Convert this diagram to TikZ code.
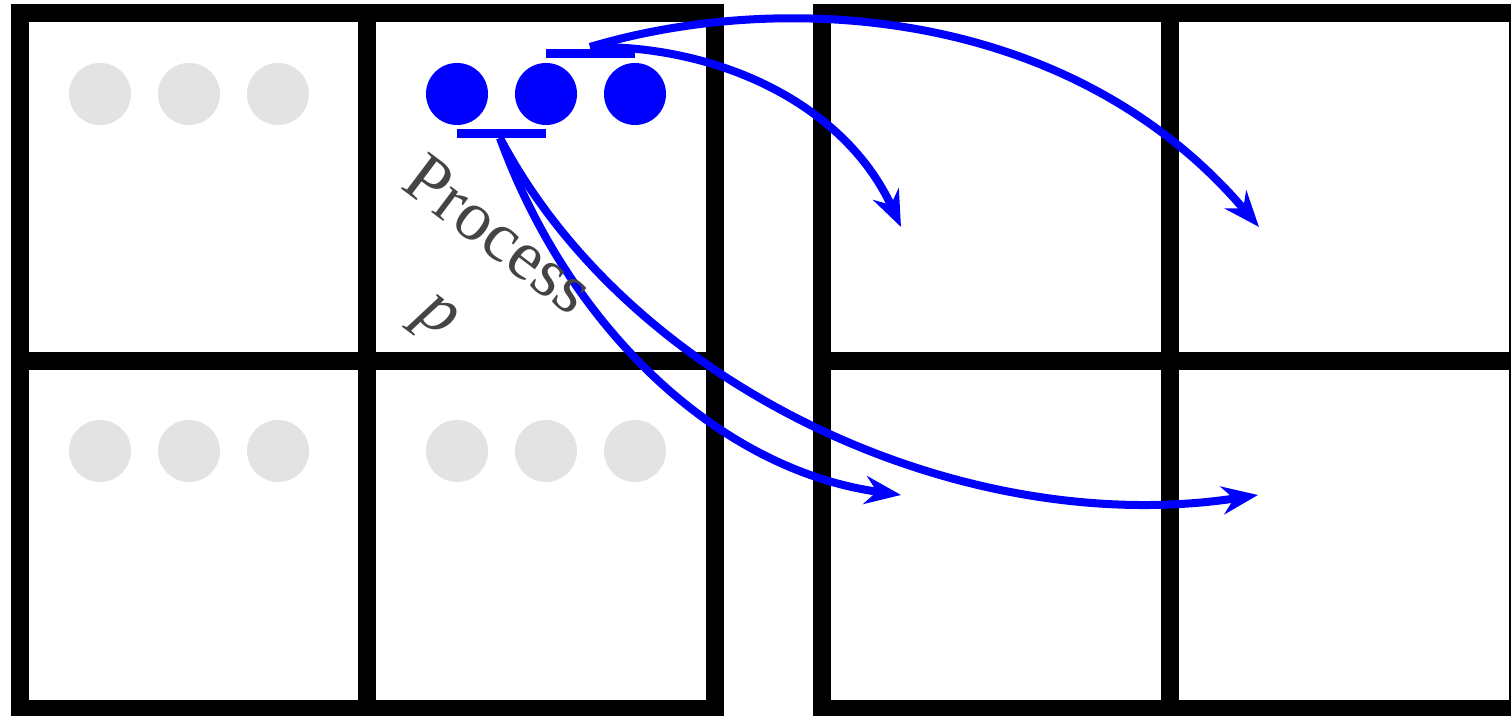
\documentclass[tikz,border=0pt]{standalone}
\usepackage{fontspec}
\newfontfamily\labelfont{Liberation Serif}
\usetikzlibrary{arrows.meta}
\definecolor{dotgrey}{HTML}{E3E3E3}
\definecolor{txtgrey}{HTML}{444444}
\begin{document}
\begin{tikzpicture}[x=0.01cm,y=-0.01cm,
  gridline/.style={line width=0.18cm},
  dot/.style={circle,inner sep=0pt,minimum size=0.62cm},
  idle/.style={dot,fill=dotgrey},
  active/.style={dot,fill=blue},
  bar/.style={draw=blue,line width=0.09cm},
  flow/.style={draw=blue,line width=0.08cm,-{Stealth[length=0.36cm,width=0.28cm]}}]
\useasboundingbox (0,0) rectangle (1511,716);
\clip (0,0) rectangle (1511,716);
% grids
\draw[gridline] (20,13) rectangle (715,709) (367,13) -- (367,709) (20,361) -- (715,361);
\draw[gridline] (822,13) rectangle (1518,709) (1170,13) -- (1170,709) (822,361) -- (1518,361);
% idle processes
\node[idle] (a1) at (100,94) {};
\node[idle] (a2) at (189,94) {};
\node[idle] (a3) at (278,94) {};
\node[idle] (c1) at (100,451) {};
\node[idle] (c2) at (189,451) {};
\node[idle] (c3) at (278,451) {};
\node[idle] (d1) at (457,451) {};
\node[idle] (d2) at (546,451) {};
\node[idle] (d3) at (635,451) {};
% active processes
\node[active] (b1) at (457,94) {};
\node[active] (b2) at (546,94) {};
\node[active] (b3) at (635,94) {};
% bars
\draw[bar] (457,133.5) -- (546,133.5);
\draw[bar] (546,53.5) -- (635,53.5);
% connector endpoints
\coordinate (lo) at (500,138);
\coordinate (hi) at (590,47);
\coordinate (t1) at (901,227);
\coordinate (t2) at (1259,227);
\coordinate (t3) at (901,495);
\coordinate (t4) at (1258,495);
\draw[flow] (hi) .. controls (720,45) and (845,105) .. (t1);
\draw[flow] (hi) .. controls (780,-10) and (1070,5) .. (t2);
\draw[flow] (lo) .. controls (570,330) and (720,470) .. (t3);
\draw[flow] (lo) .. controls (630,385) and (960,540) .. (t4);
% label
\node[rotate=-37, text=txtgrey, align=center, font=\labelfont\fontsize{20}{27}\selectfont] (lbl) at (466,278) {Process\\{\itshape p}};
\end{tikzpicture}
\end{document}
